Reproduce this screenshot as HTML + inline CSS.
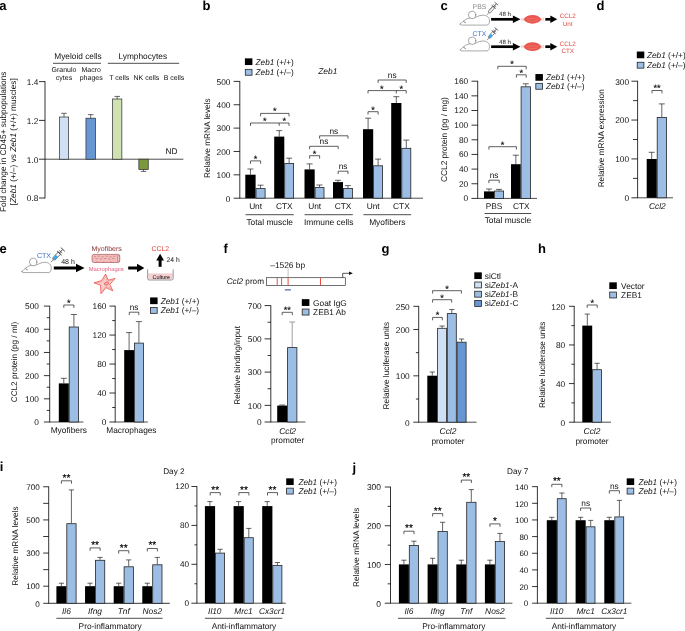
<!DOCTYPE html>
<html lang="en">
<head>
<meta charset="utf-8">
<title>Figure</title>
<style>
html,body{margin:0;padding:0;background:#fff;}
body{width:685px;height:631px;overflow:hidden;}
svg{display:block;font-family:'Liberation Sans', Arial, Helvetica, sans-serif;}
</style>
</head>
<body>
<div id="fig" style="will-change:transform;width:685px;height:631px;background:#fff">
<svg width="685" height="631" viewBox="0 0 685 631" font-family="'Liberation Sans', Arial, Helvetica, sans-serif" text-rendering="geometricPrecision">
<rect width="685" height="631" fill="#fff"/>
<text x="-0.80" y="9.80" font-size="13" text-anchor="start" fill="#000" font-weight="bold">a</text>
<text x="78.00" y="58.99" font-size="8.3" text-anchor="middle" fill="#111">Myeloid cells</text>
<line x1="53.00" y1="63.30" x2="101.00" y2="63.30" stroke="#000" stroke-width="0.7"/>
<text x="142.80" y="58.99" font-size="8.3" text-anchor="middle" fill="#111">Lymphocytes</text>
<line x1="107.80" y1="63.30" x2="179.20" y2="63.30" stroke="#000" stroke-width="0.7"/>
<text x="64.00" y="71.82" font-size="7.0" text-anchor="middle" fill="#111">Granulo</text>
<text x="64.00" y="80.12" font-size="7.0" text-anchor="middle" fill="#111">cytes</text>
<text x="91.20" y="71.82" font-size="7.0" text-anchor="middle" fill="#111">Macro</text>
<text x="91.20" y="80.12" font-size="7.0" text-anchor="middle" fill="#111">phages</text>
<text x="119.20" y="80.12" font-size="7.0" text-anchor="middle" fill="#111">T cells</text>
<text x="146.40" y="80.12" font-size="7.0" text-anchor="middle" fill="#111">NK cells</text>
<text x="174.00" y="80.12" font-size="7.0" text-anchor="middle" fill="#111">B cells</text>
<line x1="45.00" y1="81.25" x2="45.00" y2="198.35" stroke="#000" stroke-width="0.8"/>
<line x1="39.00" y1="81.60" x2="45.00" y2="81.60" stroke="#000" stroke-width="0.8"/>
<line x1="39.00" y1="120.40" x2="45.00" y2="120.40" stroke="#000" stroke-width="0.8"/>
<line x1="39.00" y1="159.20" x2="45.00" y2="159.20" stroke="#000" stroke-width="0.8"/>
<line x1="39.00" y1="198.00" x2="45.00" y2="198.00" stroke="#000" stroke-width="0.8"/>
<text x="38.40" y="84.96" font-size="8.3" text-anchor="end" fill="#111">1.4</text>
<text x="38.40" y="123.76" font-size="8.3" text-anchor="end" fill="#111">1.2</text>
<text x="38.40" y="162.56" font-size="8.3" text-anchor="end" fill="#111">1.0</text>
<text x="38.40" y="201.36" font-size="8.3" text-anchor="end" fill="#111">0.8</text>
<line x1="45.00" y1="159.20" x2="183.40" y2="159.20" stroke="#000" stroke-width="0.7"/>
<rect x="59.35" y="117.00" width="9.30" height="42.20" fill="#cfe0f5" stroke="#2b2b2b" stroke-width="0.7"/>
<line x1="64.00" y1="117.00" x2="64.00" y2="113.30" stroke="#2b2b2b" stroke-width="0.7"/>
<line x1="61.20" y1="113.30" x2="66.80" y2="113.30" stroke="#2b2b2b" stroke-width="0.7"/>
<rect x="85.95" y="118.20" width="9.50" height="41.00" fill="#6797d3" stroke="#2b2b2b" stroke-width="0.7"/>
<line x1="90.70" y1="118.20" x2="90.70" y2="114.60" stroke="#2b2b2b" stroke-width="0.7"/>
<line x1="87.90" y1="114.60" x2="93.50" y2="114.60" stroke="#2b2b2b" stroke-width="0.7"/>
<rect x="112.55" y="99.00" width="9.30" height="60.20" fill="#d0e1b2" stroke="#2b2b2b" stroke-width="0.7"/>
<line x1="117.20" y1="99.00" x2="117.20" y2="96.40" stroke="#2b2b2b" stroke-width="0.7"/>
<line x1="114.40" y1="96.40" x2="120.00" y2="96.40" stroke="#2b2b2b" stroke-width="0.7"/>
<rect x="138.85" y="159.20" width="9.40" height="10.40" fill="#7b9a3e" stroke="#2b2b2b" stroke-width="0.7"/>
<line x1="143.55" y1="169.60" x2="143.55" y2="171.40" stroke="#2b2b2b" stroke-width="0.7"/>
<line x1="140.75" y1="171.40" x2="146.35" y2="171.40" stroke="#2b2b2b" stroke-width="0.7"/>
<text x="171.40" y="154.29" font-size="8.3" text-anchor="middle" fill="#111">ND</text>
<text x="6.50" y="141.80" font-size="8.28" text-anchor="middle" fill="#111" transform="rotate(-90 6.50 141.80)">Fold change in CD45+ subpopulations</text>
<text x="15.90" y="141.80" font-size="8.28" text-anchor="middle" fill="#111" transform="rotate(-90 15.90 141.80)">[<tspan font-style="italic">Zeb1</tspan> (+/–) vs <tspan font-style="italic">Zeb1</tspan> (+/+) muscles]</text>
<text x="202.60" y="9.80" font-size="13" text-anchor="start" fill="#000" font-weight="bold">b</text>
<rect x="244.90" y="58.35" width="7.50" height="6.70" fill="#000"/>
<text x="255.60" y="64.65" font-size="8.2" text-anchor="start" fill="#111"><tspan font-style="italic">Zeb1</tspan> (+/+)</text>
<rect x="245.30" y="69.35" width="6.70" height="5.90" fill="#9cbde4" stroke="#242424" stroke-width="0.8"/>
<text x="255.60" y="75.25" font-size="8.2" text-anchor="start" fill="#111"><tspan font-style="italic">Zeb1</tspan> (+/–)</text>
<text x="327.80" y="74.02" font-size="8.4" text-anchor="middle" fill="#111" font-style="italic">Zeb1</text>
<line x1="239.80" y1="81.05" x2="239.80" y2="198.55" stroke="#000" stroke-width="0.8"/>
<line x1="233.60" y1="198.20" x2="239.80" y2="198.20" stroke="#000" stroke-width="0.8"/>
<line x1="233.60" y1="174.84" x2="239.80" y2="174.84" stroke="#000" stroke-width="0.8"/>
<line x1="233.60" y1="151.48" x2="239.80" y2="151.48" stroke="#000" stroke-width="0.8"/>
<line x1="233.60" y1="128.12" x2="239.80" y2="128.12" stroke="#000" stroke-width="0.8"/>
<line x1="233.60" y1="104.76" x2="239.80" y2="104.76" stroke="#000" stroke-width="0.8"/>
<line x1="233.60" y1="81.40" x2="239.80" y2="81.40" stroke="#000" stroke-width="0.8"/>
<text x="230.40" y="201.56" font-size="8.3" text-anchor="end" fill="#111">0</text>
<text x="230.40" y="178.20" font-size="8.3" text-anchor="end" fill="#111">100</text>
<text x="230.40" y="154.84" font-size="8.3" text-anchor="end" fill="#111">200</text>
<text x="230.40" y="131.48" font-size="8.3" text-anchor="end" fill="#111">300</text>
<text x="230.40" y="108.12" font-size="8.3" text-anchor="end" fill="#111">400</text>
<text x="230.40" y="84.76" font-size="8.3" text-anchor="end" fill="#111">500</text>
<line x1="239.80" y1="198.20" x2="423.00" y2="198.20" stroke="#000" stroke-width="0.7"/>
<text x="209.90" y="138.20" font-size="8.3" text-anchor="middle" fill="#111" transform="rotate(-90 209.90 138.20)">Relative mRNA levels</text>
<rect x="245.30" y="174.70" width="10.30" height="23.50" fill="#000"/>
<rect x="256.00" y="188.60" width="9.10" height="9.60" fill="#9cbde4" stroke="#242424" stroke-width="0.8"/>
<line x1="250.45" y1="174.70" x2="250.45" y2="169.00" stroke="#222" stroke-width="0.7"/>
<line x1="247.45" y1="169.00" x2="253.45" y2="169.00" stroke="#222" stroke-width="0.7"/>
<line x1="260.55" y1="188.20" x2="260.55" y2="185.20" stroke="#222" stroke-width="0.7"/>
<line x1="257.55" y1="185.20" x2="263.55" y2="185.20" stroke="#222" stroke-width="0.7"/>
<rect x="274.20" y="136.60" width="10.10" height="61.60" fill="#000"/>
<rect x="284.70" y="163.50" width="8.90" height="34.70" fill="#9cbde4" stroke="#242424" stroke-width="0.8"/>
<line x1="279.25" y1="136.60" x2="279.25" y2="130.60" stroke="#222" stroke-width="0.7"/>
<line x1="276.25" y1="130.60" x2="282.25" y2="130.60" stroke="#222" stroke-width="0.7"/>
<line x1="289.15" y1="163.10" x2="289.15" y2="158.20" stroke="#222" stroke-width="0.7"/>
<line x1="286.15" y1="158.20" x2="292.15" y2="158.20" stroke="#222" stroke-width="0.7"/>
<rect x="304.50" y="169.40" width="10.20" height="28.80" fill="#000"/>
<rect x="315.10" y="187.50" width="8.90" height="10.70" fill="#9cbde4" stroke="#242424" stroke-width="0.8"/>
<line x1="309.60" y1="169.40" x2="309.60" y2="163.90" stroke="#222" stroke-width="0.7"/>
<line x1="306.60" y1="163.90" x2="312.60" y2="163.90" stroke="#222" stroke-width="0.7"/>
<line x1="319.55" y1="187.10" x2="319.55" y2="185.00" stroke="#222" stroke-width="0.7"/>
<line x1="316.55" y1="185.00" x2="322.55" y2="185.00" stroke="#222" stroke-width="0.7"/>
<rect x="333.00" y="182.10" width="10.00" height="16.10" fill="#000"/>
<rect x="343.40" y="188.40" width="9.00" height="9.80" fill="#9cbde4" stroke="#242424" stroke-width="0.8"/>
<line x1="338.00" y1="182.10" x2="338.00" y2="180.30" stroke="#222" stroke-width="0.7"/>
<line x1="335.00" y1="180.30" x2="341.00" y2="180.30" stroke="#222" stroke-width="0.7"/>
<line x1="347.90" y1="188.00" x2="347.90" y2="185.60" stroke="#222" stroke-width="0.7"/>
<line x1="344.90" y1="185.60" x2="350.90" y2="185.60" stroke="#222" stroke-width="0.7"/>
<rect x="363.00" y="129.20" width="10.20" height="69.00" fill="#000"/>
<rect x="373.60" y="165.80" width="9.00" height="32.40" fill="#9cbde4" stroke="#242424" stroke-width="0.8"/>
<line x1="368.10" y1="129.20" x2="368.10" y2="118.20" stroke="#222" stroke-width="0.7"/>
<line x1="365.10" y1="118.20" x2="371.10" y2="118.20" stroke="#222" stroke-width="0.7"/>
<line x1="378.10" y1="165.40" x2="378.10" y2="159.10" stroke="#222" stroke-width="0.7"/>
<line x1="375.10" y1="159.10" x2="381.10" y2="159.10" stroke="#222" stroke-width="0.7"/>
<rect x="391.20" y="103.00" width="10.20" height="95.20" fill="#000"/>
<rect x="401.80" y="148.30" width="9.00" height="49.90" fill="#9cbde4" stroke="#242424" stroke-width="0.8"/>
<line x1="396.30" y1="103.00" x2="396.30" y2="96.70" stroke="#222" stroke-width="0.7"/>
<line x1="393.30" y1="96.70" x2="399.30" y2="96.70" stroke="#222" stroke-width="0.7"/>
<line x1="406.30" y1="147.90" x2="406.30" y2="140.10" stroke="#222" stroke-width="0.7"/>
<line x1="403.30" y1="140.10" x2="409.30" y2="140.10" stroke="#222" stroke-width="0.7"/>
<text x="255.60" y="208.79" font-size="8.3" text-anchor="middle" fill="#111">Unt</text>
<text x="284.30" y="208.79" font-size="8.3" text-anchor="middle" fill="#111">CTX</text>
<text x="314.70" y="208.79" font-size="8.3" text-anchor="middle" fill="#111">Unt</text>
<text x="343.00" y="208.79" font-size="8.3" text-anchor="middle" fill="#111">CTX</text>
<text x="373.20" y="208.79" font-size="8.3" text-anchor="middle" fill="#111">Unt</text>
<text x="401.40" y="208.79" font-size="8.3" text-anchor="middle" fill="#111">CTX</text>
<line x1="245.50" y1="214.70" x2="293.80" y2="214.70" stroke="#000" stroke-width="0.7"/>
<text x="269.65" y="224.72" font-size="8.4" text-anchor="middle" fill="#111">Total muscle</text>
<line x1="304.60" y1="214.70" x2="352.80" y2="214.70" stroke="#000" stroke-width="0.7"/>
<text x="328.70" y="224.72" font-size="8.4" text-anchor="middle" fill="#111">Immune cells</text>
<line x1="363.40" y1="214.70" x2="411.20" y2="214.70" stroke="#000" stroke-width="0.7"/>
<text x="387.30" y="224.72" font-size="8.4" text-anchor="middle" fill="#111">Myofibers</text>
<path d="M250.50 163.80V160.90H260.60V163.80" fill="none" stroke="#2a2a2a" stroke-width="0.75"/>
<text x="255.55" y="161.81" font-size="9.2" text-anchor="middle" fill="#000" stroke="#000" stroke-width="0.12">*</text>
<path d="M250.50 125.90V123.00H289.00V125.90M279.20 123.00V125.90" fill="none" stroke="#2a2a2a" stroke-width="0.75"/>
<text x="264.80" y="123.91" font-size="9.2" text-anchor="middle" fill="#000" stroke="#000" stroke-width="0.12">*</text>
<text x="284.20" y="123.91" font-size="9.2" text-anchor="middle" fill="#000" stroke="#000" stroke-width="0.12">*</text>
<path d="M260.60 116.30V113.40H289.00V116.30" fill="none" stroke="#2a2a2a" stroke-width="0.75"/>
<text x="274.80" y="114.31" font-size="9.2" text-anchor="middle" fill="#000" stroke="#000" stroke-width="0.12">*</text>
<path d="M309.60 158.60V155.70H319.60V158.60" fill="none" stroke="#2a2a2a" stroke-width="0.75"/>
<text x="314.60" y="156.61" font-size="9.2" text-anchor="middle" fill="#000" stroke="#000" stroke-width="0.12">*</text>
<path d="M309.60 149.20V146.30H338.20V149.20" fill="none" stroke="#2a2a2a" stroke-width="0.75"/>
<text x="323.90" y="144.10" font-size="8.3" text-anchor="middle" fill="#111">ns</text>
<path d="M319.60 138.70V135.80H348.00V138.70" fill="none" stroke="#2a2a2a" stroke-width="0.75"/>
<text x="333.80" y="133.60" font-size="8.3" text-anchor="middle" fill="#111">ns</text>
<path d="M338.20 174.10V171.20H348.00V174.10" fill="none" stroke="#2a2a2a" stroke-width="0.75"/>
<text x="343.10" y="169.00" font-size="8.3" text-anchor="middle" fill="#111">ns</text>
<path d="M368.00 114.60V111.70H378.10V114.60" fill="none" stroke="#2a2a2a" stroke-width="0.75"/>
<text x="373.05" y="112.61" font-size="9.2" text-anchor="middle" fill="#000" stroke="#000" stroke-width="0.12">*</text>
<path d="M368.00 93.50V90.60H406.20V93.50M396.30 90.60V93.50" fill="none" stroke="#2a2a2a" stroke-width="0.75"/>
<text x="381.80" y="91.51" font-size="9.2" text-anchor="middle" fill="#000" stroke="#000" stroke-width="0.12">*</text>
<text x="401.20" y="91.51" font-size="9.2" text-anchor="middle" fill="#000" stroke="#000" stroke-width="0.12">*</text>
<path d="M378.10 82.90V80.00H406.20V82.90" fill="none" stroke="#2a2a2a" stroke-width="0.75"/>
<text x="392.15" y="77.80" font-size="8.3" text-anchor="middle" fill="#111">ns</text>
<text x="440.60" y="9.80" font-size="13" text-anchor="start" fill="#000" font-weight="bold">c</text>
<g transform="translate(459.80 10.30)" fill="#fff" stroke="#6e6e6e" stroke-width="0.6" stroke-linejoin="round" stroke-linecap="round"><path d="M0.4 13.7 C2.5 11.5 5 9.6 7.4 8.4 C10 7.4 13 7.6 15.8 7.2 C18 5.9 20.5 4.9 23.2 4.9 C27 4.9 29.7 7 29.7 10.5 C29.7 13 28.8 14.8 27 14.8 L2.4 14.8 C1 14.8 0 14.4 0.4 13.7 Z"/><circle cx="12.3" cy="4.6" r="3.7"/><path d="M4.0 11.4 L5.6 12.3" fill="none" stroke-width="0.7" stroke="#444"/></g>
<text x="479.40" y="8.55" font-size="6.8" text-anchor="middle" fill="#8a8a8a">PBS</text>
<g transform="translate(487.00 14.90) rotate(-50)" stroke="#333" stroke-width="0.55" fill="#fff"><line x1="0" y1="0" x2="2.8" y2="0" stroke-width="0.45"/><path d="M2.8 0 L3.8 -1.3 H10.4 V1.3 H3.8 Z" fill="#fff"/><path d="M5.2 -1.3V0M6.5 -1.3V0M7.8 -1.3V0M9.1 -1.3V0" stroke-width="0.3"/><line x1="10.4" y1="-2.6" x2="10.4" y2="2.6" stroke-width="0.7"/><line x1="10.4" y1="0" x2="14.4" y2="0" stroke-width="0.7"/><line x1="12.0" y1="-1.9" x2="12.0" y2="1.9" stroke-width="0.5"/><line x1="14.6" y1="-2.3" x2="14.6" y2="2.3" stroke-width="0.7"/></g>
<line x1="491.10" y1="19.30" x2="513.40" y2="19.30" stroke="#000" stroke-width="2.7"/>
<path d="M520.50 19.30L512.90 15.60V23.00Z" fill="#000"/>
<text x="505.00" y="16.00" font-size="6.1" text-anchor="middle" fill="#111">48 h</text>
<path d="M521.00 18.30H524.40M521.00 19.30H524.40M521.00 20.30H524.40M540.60 18.30H544.00M540.60 19.30H544.00M540.60 20.30H544.00" stroke="#f1bdb8" stroke-width="0.6" fill="none"/>
<path d="M523.60 19.30 C526.60 13.50 538.40 13.50 541.40 19.30 C538.40 25.10 526.60 25.10 523.60 19.30Z" fill="#e9584f"/>
<path d="M526.60 19.00Q532.50 17.70 538.40 19.00M527.60 20.70Q532.50 21.90 537.40 20.70" fill="none" stroke="#f08a82" stroke-width="0.5"/>
<line x1="545.30" y1="19.30" x2="550.80" y2="19.30" stroke="#000" stroke-width="2.7"/>
<path d="M557.30 19.30L550.30 15.60V23.00Z" fill="#000"/>
<text x="567.70" y="18.37" font-size="6.3" text-anchor="middle" fill="#e5473f">CCL2</text>
<text x="567.70" y="25.67" font-size="6.3" text-anchor="middle" fill="#e5473f">Unt</text>
<g transform="translate(459.80 36.10)" fill="#fff" stroke="#6e6e6e" stroke-width="0.6" stroke-linejoin="round" stroke-linecap="round"><path d="M0.4 13.7 C2.5 11.5 5 9.6 7.4 8.4 C10 7.4 13 7.6 15.8 7.2 C18 5.9 20.5 4.9 23.2 4.9 C27 4.9 29.7 7 29.7 10.5 C29.7 13 28.8 14.8 27 14.8 L2.4 14.8 C1 14.8 0 14.4 0.4 13.7 Z"/><circle cx="12.3" cy="4.6" r="3.7"/><path d="M4.0 11.4 L5.6 12.3" fill="none" stroke-width="0.7" stroke="#444"/></g>
<text x="479.40" y="35.75" font-size="6.8" text-anchor="middle" fill="#3d6fc6">CTX</text>
<g transform="translate(487.00 40.20) rotate(-50)" stroke="#333" stroke-width="0.55" fill="#fff"><line x1="0" y1="0" x2="2.8" y2="0" stroke-width="0.45"/><path d="M2.8 0 L3.8 -1.3 H10.4 V1.3 H3.8 Z" fill="#fff"/><path d="M3.0 0 L3.9 -1.1 H7.4 V1.1 H3.9 Z" fill="#35a7ee" stroke="none"/><line x1="10.4" y1="-2.6" x2="10.4" y2="2.6" stroke-width="0.7"/><line x1="10.4" y1="0" x2="14.4" y2="0" stroke-width="0.7"/><line x1="12.0" y1="-1.9" x2="12.0" y2="1.9" stroke-width="0.5"/><line x1="14.6" y1="-2.3" x2="14.6" y2="2.3" stroke-width="0.7"/></g>
<line x1="491.10" y1="46.70" x2="513.40" y2="46.70" stroke="#000" stroke-width="2.7"/>
<path d="M520.50 46.70L512.90 43.00V50.40Z" fill="#000"/>
<text x="505.00" y="44.40" font-size="6.1" text-anchor="middle" fill="#111">48 h</text>
<path d="M521.00 45.70H524.40M521.00 46.70H524.40M521.00 47.70H524.40M540.60 45.70H544.00M540.60 46.70H544.00M540.60 47.70H544.00" stroke="#f1bdb8" stroke-width="0.6" fill="none"/>
<path d="M523.60 46.70 C526.60 40.90 538.40 40.90 541.40 46.70 C538.40 52.50 526.60 52.50 523.60 46.70Z" fill="#e9584f"/>
<path d="M526.60 46.40Q532.50 45.10 538.40 46.40M527.60 48.10Q532.50 49.30 537.40 48.10" fill="none" stroke="#f08a82" stroke-width="0.5"/>
<line x1="545.30" y1="46.70" x2="550.80" y2="46.70" stroke="#000" stroke-width="2.7"/>
<path d="M557.30 46.70L550.30 43.00V50.40Z" fill="#000"/>
<text x="567.70" y="45.77" font-size="6.3" text-anchor="middle" fill="#e5473f">CCL2</text>
<text x="567.70" y="53.07" font-size="6.3" text-anchor="middle" fill="#e5473f">CTX</text>
<line x1="477.70" y1="80.85" x2="477.70" y2="198.75" stroke="#000" stroke-width="0.8"/>
<line x1="471.50" y1="198.40" x2="477.70" y2="198.40" stroke="#000" stroke-width="0.8"/>
<line x1="471.50" y1="183.75" x2="477.70" y2="183.75" stroke="#000" stroke-width="0.8"/>
<line x1="471.50" y1="169.10" x2="477.70" y2="169.10" stroke="#000" stroke-width="0.8"/>
<line x1="471.50" y1="154.45" x2="477.70" y2="154.45" stroke="#000" stroke-width="0.8"/>
<line x1="471.50" y1="139.80" x2="477.70" y2="139.80" stroke="#000" stroke-width="0.8"/>
<line x1="471.50" y1="125.15" x2="477.70" y2="125.15" stroke="#000" stroke-width="0.8"/>
<line x1="471.50" y1="110.50" x2="477.70" y2="110.50" stroke="#000" stroke-width="0.8"/>
<line x1="471.50" y1="95.85" x2="477.70" y2="95.85" stroke="#000" stroke-width="0.8"/>
<line x1="471.50" y1="81.20" x2="477.70" y2="81.20" stroke="#000" stroke-width="0.8"/>
<text x="468.20" y="201.36" font-size="8.3" text-anchor="end" fill="#111">0</text>
<text x="468.20" y="186.71" font-size="8.3" text-anchor="end" fill="#111">20</text>
<text x="468.20" y="172.06" font-size="8.3" text-anchor="end" fill="#111">40</text>
<text x="468.20" y="157.41" font-size="8.3" text-anchor="end" fill="#111">60</text>
<text x="468.20" y="142.76" font-size="8.3" text-anchor="end" fill="#111">80</text>
<text x="468.20" y="128.11" font-size="8.3" text-anchor="end" fill="#111">100</text>
<text x="468.20" y="113.46" font-size="8.3" text-anchor="end" fill="#111">120</text>
<text x="468.20" y="98.81" font-size="8.3" text-anchor="end" fill="#111">140</text>
<text x="468.20" y="84.16" font-size="8.3" text-anchor="end" fill="#111">160</text>
<line x1="477.70" y1="198.40" x2="537.00" y2="198.40" stroke="#000" stroke-width="0.7"/>
<text x="446.60" y="139.60" font-size="8.36" text-anchor="middle" fill="#111" transform="rotate(-90 446.60 139.60)">CCL2 protein (pg / mg)</text>
<rect x="484.00" y="191.40" width="10.00" height="7.00" fill="#000"/>
<rect x="494.40" y="191.00" width="9.20" height="7.40" fill="#9cbde4" stroke="#242424" stroke-width="0.8"/>
<line x1="489.00" y1="191.40" x2="489.00" y2="189.00" stroke="#222" stroke-width="0.7"/>
<line x1="486.00" y1="189.00" x2="492.00" y2="189.00" stroke="#222" stroke-width="0.7"/>
<line x1="499.00" y1="190.60" x2="499.00" y2="189.40" stroke="#222" stroke-width="0.7"/>
<line x1="496.00" y1="189.40" x2="502.00" y2="189.40" stroke="#222" stroke-width="0.7"/>
<rect x="511.00" y="164.20" width="9.70" height="34.20" fill="#000"/>
<rect x="521.10" y="86.80" width="9.40" height="111.60" fill="#9cbde4" stroke="#242424" stroke-width="0.8"/>
<line x1="515.85" y1="164.20" x2="515.85" y2="155.20" stroke="#222" stroke-width="0.7"/>
<line x1="512.85" y1="155.20" x2="518.85" y2="155.20" stroke="#222" stroke-width="0.7"/>
<line x1="525.80" y1="86.40" x2="525.80" y2="83.80" stroke="#222" stroke-width="0.7"/>
<line x1="522.80" y1="83.80" x2="528.80" y2="83.80" stroke="#222" stroke-width="0.7"/>
<text x="494.00" y="209.09" font-size="8.3" text-anchor="middle" fill="#111">PBS</text>
<text x="521.20" y="209.09" font-size="8.3" text-anchor="middle" fill="#111">CTX</text>
<line x1="484.60" y1="213.50" x2="531.20" y2="213.50" stroke="#000" stroke-width="0.7"/>
<text x="507.90" y="222.72" font-size="8.4" text-anchor="middle" fill="#111">Total muscle</text>
<path d="M488.90 183.10V180.20H499.20V183.10" fill="none" stroke="#2a2a2a" stroke-width="0.75"/>
<text x="494.05" y="178.00" font-size="8.3" text-anchor="middle" fill="#111">ns</text>
<path d="M488.90 149.60V146.70H516.40V149.60" fill="none" stroke="#2a2a2a" stroke-width="0.75"/>
<text x="502.65" y="147.61" font-size="9.2" text-anchor="middle" fill="#000" stroke="#000" stroke-width="0.12">*</text>
<path d="M516.40 77.70V74.80H526.20V77.70" fill="none" stroke="#2a2a2a" stroke-width="0.75"/>
<text x="521.30" y="75.71" font-size="9.2" text-anchor="middle" fill="#000" stroke="#000" stroke-width="0.12">*</text>
<path d="M497.80 69.20V66.30H526.20V69.20" fill="none" stroke="#2a2a2a" stroke-width="0.75"/>
<text x="512.00" y="67.21" font-size="9.2" text-anchor="middle" fill="#000" stroke="#000" stroke-width="0.12">*</text>
<rect x="535.40" y="74.05" width="7.50" height="6.70" fill="#000"/>
<text x="545.90" y="80.39" font-size="8.3" text-anchor="start" fill="#111"><tspan font-style="italic">Zeb1</tspan> (+/+)</text>
<rect x="535.80" y="83.35" width="6.70" height="5.90" fill="#9cbde4" stroke="#242424" stroke-width="0.8"/>
<text x="545.90" y="89.29" font-size="8.3" text-anchor="start" fill="#111"><tspan font-style="italic">Zeb1</tspan> (+/–)</text>
<text x="596.60" y="9.80" font-size="13" text-anchor="start" fill="#000" font-weight="bold">d</text>
<rect x="636.80" y="51.55" width="7.50" height="6.70" fill="#000"/>
<text x="646.90" y="57.89" font-size="8.3" text-anchor="start" fill="#111"><tspan font-style="italic">Zeb1</tspan> (+/+)</text>
<rect x="637.20" y="62.25" width="6.70" height="5.90" fill="#9cbde4" stroke="#242424" stroke-width="0.8"/>
<text x="646.90" y="68.19" font-size="8.3" text-anchor="start" fill="#111"><tspan font-style="italic">Zeb1</tspan> (+/–)</text>
<line x1="637.60" y1="80.84" x2="637.60" y2="198.15" stroke="#000" stroke-width="0.8"/>
<line x1="631.40" y1="197.80" x2="637.60" y2="197.80" stroke="#000" stroke-width="0.8"/>
<line x1="631.40" y1="158.93" x2="637.60" y2="158.93" stroke="#000" stroke-width="0.8"/>
<line x1="631.40" y1="120.06" x2="637.60" y2="120.06" stroke="#000" stroke-width="0.8"/>
<line x1="631.40" y1="81.19" x2="637.60" y2="81.19" stroke="#000" stroke-width="0.8"/>
<line x1="633.00" y1="178.37" x2="637.60" y2="178.37" stroke="#000" stroke-width="0.8"/>
<line x1="633.00" y1="139.50" x2="637.60" y2="139.50" stroke="#000" stroke-width="0.8"/>
<line x1="633.00" y1="100.63" x2="637.60" y2="100.63" stroke="#000" stroke-width="0.8"/>
<text x="629.00" y="201.16" font-size="8.3" text-anchor="end" fill="#111">0</text>
<text x="629.00" y="162.29" font-size="8.3" text-anchor="end" fill="#111">100</text>
<text x="629.00" y="123.42" font-size="8.3" text-anchor="end" fill="#111">200</text>
<text x="629.00" y="84.55" font-size="8.3" text-anchor="end" fill="#111">300</text>
<line x1="637.60" y1="197.80" x2="673.00" y2="197.80" stroke="#000" stroke-width="0.7"/>
<text x="603.90" y="138.30" font-size="8.25" text-anchor="middle" fill="#111" transform="rotate(-90 603.90 138.30)">Relative mRNA expression</text>
<rect x="646.70" y="159.00" width="10.10" height="38.80" fill="#000"/>
<rect x="657.20" y="117.40" width="9.20" height="80.40" fill="#9cbde4" stroke="#242424" stroke-width="0.8"/>
<line x1="651.70" y1="159.00" x2="651.70" y2="152.30" stroke="#222" stroke-width="0.7"/>
<line x1="648.70" y1="152.30" x2="654.70" y2="152.30" stroke="#222" stroke-width="0.7"/>
<line x1="661.80" y1="117.00" x2="661.80" y2="103.90" stroke="#222" stroke-width="0.7"/>
<line x1="658.80" y1="103.90" x2="664.80" y2="103.90" stroke="#222" stroke-width="0.7"/>
<path d="M652.00 93.40V90.50H662.00V93.40" fill="none" stroke="#2a2a2a" stroke-width="0.75"/>
<text x="657.00" y="91.41" font-size="9.2" text-anchor="middle" fill="#000" stroke="#000" stroke-width="0.12">**</text>
<text x="657.40" y="209.02" font-size="8.4" text-anchor="middle" fill="#111" font-style="italic">Ccl2</text>
<text x="-0.40" y="252.70" font-size="13" text-anchor="start" fill="#000" font-weight="bold">e</text>
<g transform="translate(21.60 257.20) scale(1.0 1.04)" fill="#fff" stroke="#6e6e6e" stroke-width="0.6" stroke-linejoin="round" stroke-linecap="round"><path d="M0.4 13.7 C2.5 11.5 5 9.6 7.4 8.4 C10 7.4 13 7.6 15.8 7.2 C18 5.9 20.5 4.9 23.2 4.9 C27 4.9 29.7 7 29.7 10.5 C29.7 13 28.8 14.8 27 14.8 L2.4 14.8 C1 14.8 0 14.4 0.4 13.7 Z"/><circle cx="11.6" cy="4.6" r="3.7"/><path d="M4.2 11.2 L5.6 12.0" fill="none" stroke-width="0.7" stroke="#444"/></g>
<text x="44.00" y="257.76" font-size="7.1" text-anchor="middle" fill="#3d6fc6">CTX</text>
<g transform="translate(50.8 262.2) scale(1.2) translate(-50.8 -262.2)">
<g transform="translate(50.80 262.20) rotate(-46.8)" stroke="#333" stroke-width="0.55" fill="#fff"><line x1="0" y1="0" x2="2.8" y2="0" stroke-width="0.45"/><path d="M2.8 0 L3.8 -1.3 H10.4 V1.3 H3.8 Z" fill="#fff"/><path d="M3.0 0 L3.9 -1.1 H7.4 V1.1 H3.9 Z" fill="#35a7ee" stroke="none"/><line x1="10.4" y1="-2.6" x2="10.4" y2="2.6" stroke-width="0.7"/><line x1="10.4" y1="0" x2="14.4" y2="0" stroke-width="0.7"/><line x1="12.0" y1="-1.9" x2="12.0" y2="1.9" stroke-width="0.5"/><line x1="14.6" y1="-2.3" x2="14.6" y2="2.3" stroke-width="0.7"/></g>
</g>
<line x1="53.80" y1="268.00" x2="76.50" y2="268.00" stroke="#000" stroke-width="3.0"/>
<path d="M84.60 268.00L76.00 263.80V272.20Z" fill="#000"/>
<text x="68.00" y="264.02" font-size="7.0" text-anchor="middle" fill="#111">48 h</text>
<text x="106.60" y="251.02" font-size="7.0" text-anchor="middle" fill="#86302f">Myofibers</text>
<rect x="92.1" y="254.4" width="27.6" height="8.1" rx="1.8" fill="#f3bcbc" stroke="#9a4040" stroke-width="0.6"/>
<ellipse cx="118.6" cy="258.45" rx="1.1" ry="3.6" fill="#f6cccc" stroke="#9a4040" stroke-width="0.45"/>
<path d="M94 256.6h2M97.6 256.2h2.4M101.6 256.8h2.2M105.4 256.2h2.4M109.4 256.8h2.2M113.2 256.3h2.2M95.5 258.6h2.2M99.6 259h2.4M104 258.5h2.2M108 259h2.4M112 258.6h2.4M96 261.9h1.6M103 261.9h1.6M110 261.9h1.6" stroke="#b96a6a" stroke-width="0.55" fill="none"/>
<text x="106.20" y="270.79" font-size="5.8" text-anchor="middle" fill="#e9557c">Macrophages</text>
<path d="M105.6 274.0 L108.2 280.2 L115.1 278.4 L109.8 284.4 L112.8 290.8 L105.9 287.6 L101.0 293.7 L100.5 285.2 L94.0 282.8 L101.5 280.6 Z" fill="#f9cfcf" stroke="#e5392e" stroke-width="0.7" stroke-linejoin="round"/>
<path d="M105.5 276.6 L107.2 281.6 L112.2 280.2 M111.2 288.6 L106.2 286.0 L102.2 290.8 M96.6 282.8 L102.6 281.8 L105.0 277.6" fill="none" stroke="#ee7b72" stroke-width="0.4"/>
<ellipse cx="106.4" cy="283.6" rx="2.2" ry="1.5" fill="#f3a7a7" stroke="#e5392e" stroke-width="0.5" transform="rotate(-15 106.4 283.6)"/>
<line x1="128.20" y1="268.00" x2="137.50" y2="268.00" stroke="#000" stroke-width="3.0"/>
<path d="M144.40 268.00L137.00 263.80V272.20Z" fill="#000"/>
<path d="M148.2 273.9H172.6V279.4H148.2Z" fill="#f8d3d5"/>
<path d="M148.2 273.9H172.6" stroke="#e7a3a8" stroke-width="0.45"/>
<path d="M147.6 269.3V278.4Q147.6 280.0 149.2 280.0H171.6Q173.2 280.0 173.2 278.4V269.3" fill="none" stroke="#777" stroke-width="0.75"/>
<text x="161.30" y="278.88" font-size="5.5" text-anchor="middle" fill="#000">Culture</text>
<line x1="160.10" y1="266.80" x2="160.10" y2="259.50" stroke="#000" stroke-width="3.0"/>
<path d="M160.1 253.8L156.2 260.6H164.0Z" fill="#000"/>
<text x="160.40" y="250.78" font-size="6.9" text-anchor="middle" fill="#e5473f">CCL2</text>
<text x="173.10" y="262.23" font-size="6.75" text-anchor="middle" fill="#111">24 h</text>
<line x1="49.70" y1="305.75" x2="49.70" y2="422.35" stroke="#000" stroke-width="0.8"/>
<line x1="43.90" y1="422.00" x2="49.70" y2="422.00" stroke="#000" stroke-width="0.8"/>
<line x1="43.90" y1="398.82" x2="49.70" y2="398.82" stroke="#000" stroke-width="0.8"/>
<line x1="43.90" y1="375.64" x2="49.70" y2="375.64" stroke="#000" stroke-width="0.8"/>
<line x1="43.90" y1="352.46" x2="49.70" y2="352.46" stroke="#000" stroke-width="0.8"/>
<line x1="43.90" y1="329.28" x2="49.70" y2="329.28" stroke="#000" stroke-width="0.8"/>
<line x1="43.90" y1="306.10" x2="49.70" y2="306.10" stroke="#000" stroke-width="0.8"/>
<line x1="46.70" y1="410.41" x2="49.70" y2="410.41" stroke="#000" stroke-width="0.8"/>
<line x1="46.70" y1="387.23" x2="49.70" y2="387.23" stroke="#000" stroke-width="0.8"/>
<line x1="46.70" y1="364.05" x2="49.70" y2="364.05" stroke="#000" stroke-width="0.8"/>
<line x1="46.70" y1="340.87" x2="49.70" y2="340.87" stroke="#000" stroke-width="0.8"/>
<line x1="46.70" y1="317.69" x2="49.70" y2="317.69" stroke="#000" stroke-width="0.8"/>
<text x="38.90" y="425.36" font-size="8.3" text-anchor="end" fill="#111">0</text>
<text x="38.90" y="402.18" font-size="8.3" text-anchor="end" fill="#111">100</text>
<text x="38.90" y="379.00" font-size="8.3" text-anchor="end" fill="#111">200</text>
<text x="38.90" y="355.82" font-size="8.3" text-anchor="end" fill="#111">300</text>
<text x="38.90" y="332.64" font-size="8.3" text-anchor="end" fill="#111">400</text>
<text x="38.90" y="309.46" font-size="8.3" text-anchor="end" fill="#111">500</text>
<line x1="49.70" y1="422.00" x2="83.40" y2="422.00" stroke="#000" stroke-width="0.7"/>
<text x="16.80" y="362.00" font-size="8.2" text-anchor="middle" fill="#111" transform="rotate(-90 16.80 362.00)">CCL2 protein (pg / ml)</text>
<rect x="58.80" y="383.40" width="10.00" height="38.60" fill="#000"/>
<rect x="69.20" y="327.00" width="9.30" height="95.00" fill="#9cbde4" stroke="#242424" stroke-width="0.8"/>
<line x1="63.80" y1="383.40" x2="63.80" y2="378.30" stroke="#222" stroke-width="0.7"/>
<line x1="60.80" y1="378.30" x2="66.80" y2="378.30" stroke="#222" stroke-width="0.7"/>
<line x1="73.90" y1="326.60" x2="73.90" y2="314.50" stroke="#222" stroke-width="0.7"/>
<line x1="70.90" y1="314.50" x2="76.90" y2="314.50" stroke="#222" stroke-width="0.7"/>
<path d="M63.80 307.90V305.00H73.90V307.90" fill="none" stroke="#2a2a2a" stroke-width="0.75"/>
<text x="68.85" y="305.91" font-size="9.2" text-anchor="middle" fill="#000" stroke="#000" stroke-width="0.12">*</text>
<text x="68.80" y="433.12" font-size="8.4" text-anchor="middle" fill="#111">Myofibers</text>
<line x1="115.20" y1="305.75" x2="115.20" y2="422.35" stroke="#000" stroke-width="0.8"/>
<line x1="109.40" y1="422.00" x2="115.20" y2="422.00" stroke="#000" stroke-width="0.8"/>
<line x1="109.40" y1="393.02" x2="115.20" y2="393.02" stroke="#000" stroke-width="0.8"/>
<line x1="109.40" y1="364.05" x2="115.20" y2="364.05" stroke="#000" stroke-width="0.8"/>
<line x1="109.40" y1="335.07" x2="115.20" y2="335.07" stroke="#000" stroke-width="0.8"/>
<line x1="109.40" y1="306.10" x2="115.20" y2="306.10" stroke="#000" stroke-width="0.8"/>
<line x1="112.20" y1="407.51" x2="115.20" y2="407.51" stroke="#000" stroke-width="0.8"/>
<line x1="112.20" y1="378.54" x2="115.20" y2="378.54" stroke="#000" stroke-width="0.8"/>
<line x1="112.20" y1="349.56" x2="115.20" y2="349.56" stroke="#000" stroke-width="0.8"/>
<line x1="112.20" y1="320.58" x2="115.20" y2="320.58" stroke="#000" stroke-width="0.8"/>
<text x="106.40" y="425.36" font-size="8.3" text-anchor="end" fill="#111">0</text>
<text x="106.40" y="396.39" font-size="8.3" text-anchor="end" fill="#111">40</text>
<text x="106.40" y="367.41" font-size="8.3" text-anchor="end" fill="#111">80</text>
<text x="106.40" y="338.43" font-size="8.3" text-anchor="end" fill="#111">120</text>
<text x="106.40" y="309.46" font-size="8.3" text-anchor="end" fill="#111">160</text>
<line x1="115.20" y1="422.00" x2="147.80" y2="422.00" stroke="#000" stroke-width="0.7"/>
<rect x="124.20" y="350.10" width="9.80" height="71.90" fill="#000"/>
<rect x="134.40" y="343.10" width="9.00" height="78.90" fill="#9cbde4" stroke="#242424" stroke-width="0.8"/>
<line x1="129.10" y1="350.10" x2="129.10" y2="332.60" stroke="#222" stroke-width="0.7"/>
<line x1="126.10" y1="332.60" x2="132.10" y2="332.60" stroke="#222" stroke-width="0.7"/>
<line x1="138.90" y1="342.70" x2="138.90" y2="321.60" stroke="#222" stroke-width="0.7"/>
<line x1="135.90" y1="321.60" x2="141.90" y2="321.60" stroke="#222" stroke-width="0.7"/>
<path d="M129.30 315.10V312.20H138.80V315.10" fill="none" stroke="#2a2a2a" stroke-width="0.75"/>
<text x="134.05" y="310.00" font-size="8.3" text-anchor="middle" fill="#111">ns</text>
<text x="131.40" y="433.09" font-size="8.3" text-anchor="middle" fill="#111">Macrophages</text>
<rect x="150.10" y="297.45" width="7.50" height="6.70" fill="#000"/>
<text x="160.70" y="303.77" font-size="8.25" text-anchor="start" fill="#111"><tspan font-style="italic">Zeb1</tspan> (+/+)</text>
<rect x="150.50" y="307.45" width="6.70" height="5.90" fill="#9cbde4" stroke="#242424" stroke-width="0.8"/>
<text x="160.70" y="313.37" font-size="8.25" text-anchor="start" fill="#111"><tspan font-style="italic">Zeb1</tspan> (+/–)</text>
<text x="223.60" y="252.80" font-size="13" text-anchor="start" fill="#000" font-weight="bold">f</text>
<text x="287.70" y="267.82" font-size="8.4" text-anchor="middle" fill="#111">–1526 bp</text>
<line x1="288.10" y1="268.60" x2="288.10" y2="277.60" stroke="#777" stroke-width="0.45"/>
<text x="264.00" y="284.40" font-size="8.2" text-anchor="end" fill="#111"><tspan font-style="italic">Ccl2</tspan> prom</text>
<rect x="266.50" y="277.70" width="78.80" height="7.80" fill="#fff" stroke="#333" stroke-width="0.7"/>
<line x1="277.20" y1="278.10" x2="277.20" y2="285.10" stroke="#e8392b" stroke-width="0.9"/>
<line x1="281.60" y1="278.10" x2="281.60" y2="285.10" stroke="#e8392b" stroke-width="0.9"/>
<line x1="288.10" y1="278.10" x2="288.10" y2="285.10" stroke="#e8392b" stroke-width="0.9"/>
<line x1="320.50" y1="278.10" x2="320.50" y2="285.10" stroke="#e8392b" stroke-width="0.9"/>
<path d="M342.7 277.7V273.3H350" fill="none" stroke="#111" stroke-width="0.7"/><path d="M352.9 273.3L349.0 271.5V275.1Z" fill="#111"/>
<line x1="284.80" y1="289.90" x2="290.90" y2="289.90" stroke="#3a50a8" stroke-width="1.1"/>
<line x1="270.80" y1="305.24" x2="270.80" y2="422.35" stroke="#000" stroke-width="0.8"/>
<line x1="264.60" y1="422.00" x2="270.80" y2="422.00" stroke="#000" stroke-width="0.8"/>
<line x1="264.60" y1="405.37" x2="270.80" y2="405.37" stroke="#000" stroke-width="0.8"/>
<line x1="264.60" y1="372.11" x2="270.80" y2="372.11" stroke="#000" stroke-width="0.8"/>
<line x1="264.60" y1="338.85" x2="270.80" y2="338.85" stroke="#000" stroke-width="0.8"/>
<line x1="264.60" y1="305.59" x2="270.80" y2="305.59" stroke="#000" stroke-width="0.8"/>
<line x1="267.60" y1="388.74" x2="270.80" y2="388.74" stroke="#000" stroke-width="0.8"/>
<line x1="267.60" y1="355.48" x2="270.80" y2="355.48" stroke="#000" stroke-width="0.8"/>
<line x1="267.60" y1="322.22" x2="270.80" y2="322.22" stroke="#000" stroke-width="0.8"/>
<text x="261.70" y="425.36" font-size="8.3" text-anchor="end" fill="#111">0</text>
<text x="261.70" y="408.73" font-size="8.3" text-anchor="end" fill="#111">100</text>
<text x="261.70" y="375.47" font-size="8.3" text-anchor="end" fill="#111">300</text>
<text x="261.70" y="342.21" font-size="8.3" text-anchor="end" fill="#111">500</text>
<text x="261.70" y="308.95" font-size="8.3" text-anchor="end" fill="#111">700</text>
<line x1="270.80" y1="422.00" x2="305.40" y2="422.00" stroke="#000" stroke-width="0.7"/>
<text x="239.60" y="365.40" font-size="8.24" text-anchor="middle" fill="#111" transform="rotate(-90 239.60 365.40)">Relative binding/input</text>
<rect x="277.20" y="405.60" width="10.00" height="16.40" fill="#000"/>
<rect x="287.60" y="347.60" width="9.30" height="74.40" fill="#9cbde4" stroke="#242424" stroke-width="0.8"/>
<line x1="282.20" y1="405.60" x2="282.20" y2="405.00" stroke="#222" stroke-width="0.7"/>
<line x1="279.20" y1="405.00" x2="285.20" y2="405.00" stroke="#222" stroke-width="0.7"/>
<line x1="292.20" y1="347.20" x2="292.20" y2="322.00" stroke="#777" stroke-width="0.7"/>
<line x1="289.20" y1="322.00" x2="295.20" y2="322.00" stroke="#777" stroke-width="0.7"/>
<path d="M282.20 315.20V312.30H292.30V315.20" fill="none" stroke="#2a2a2a" stroke-width="0.75"/>
<text x="287.25" y="313.21" font-size="9.2" text-anchor="middle" fill="#000" stroke="#000" stroke-width="0.12">**</text>
<rect x="301.80" y="299.15" width="7.60" height="6.80" fill="#000"/>
<text x="313.10" y="305.54" font-size="8.3" text-anchor="start" fill="#111">Goat IgG</text>
<rect x="302.20" y="309.05" width="6.80" height="6.00" fill="#9cbde4" stroke="#242424" stroke-width="0.8"/>
<text x="313.10" y="315.04" font-size="8.3" text-anchor="start" fill="#111">ZEB1 Ab</text>
<text x="287.60" y="433.52" font-size="8.4" text-anchor="middle" fill="#111" font-style="italic">Ccl2</text>
<text x="287.60" y="442.59" font-size="8.3" text-anchor="middle" fill="#111">promoter</text>
<text x="381.60" y="252.80" font-size="13" text-anchor="start" fill="#000" font-weight="bold">g</text>
<rect x="474.30" y="272.35" width="7.50" height="6.70" fill="#000"/>
<text x="484.80" y="278.69" font-size="8.3" text-anchor="start" fill="#111">siCtl</text>
<rect x="474.70" y="282.00" width="6.70" height="5.90" fill="#cfe0f5" stroke="#242424" stroke-width="0.8"/>
<text x="484.80" y="287.94" font-size="8.3" text-anchor="start" fill="#111">si<tspan font-style="italic">Zeb1</tspan>-A</text>
<rect x="474.70" y="291.25" width="6.70" height="5.90" fill="#9cbde4" stroke="#242424" stroke-width="0.8"/>
<text x="484.80" y="297.19" font-size="8.3" text-anchor="start" fill="#111">si<tspan font-style="italic">Zeb1</tspan>-B</text>
<rect x="474.70" y="300.50" width="6.70" height="5.90" fill="#6797d3" stroke="#242424" stroke-width="0.8"/>
<text x="484.80" y="306.44" font-size="8.3" text-anchor="start" fill="#111">si<tspan font-style="italic">Zeb1</tspan>-C</text>
<line x1="418.70" y1="305.95" x2="418.70" y2="422.55" stroke="#000" stroke-width="0.8"/>
<line x1="413.30" y1="422.20" x2="418.70" y2="422.20" stroke="#000" stroke-width="0.8"/>
<line x1="413.30" y1="375.84" x2="418.70" y2="375.84" stroke="#000" stroke-width="0.8"/>
<line x1="413.30" y1="329.48" x2="418.70" y2="329.48" stroke="#000" stroke-width="0.8"/>
<line x1="413.30" y1="306.30" x2="418.70" y2="306.30" stroke="#000" stroke-width="0.8"/>
<line x1="415.90" y1="399.02" x2="418.70" y2="399.02" stroke="#000" stroke-width="0.8"/>
<line x1="415.90" y1="352.66" x2="418.70" y2="352.66" stroke="#000" stroke-width="0.8"/>
<text x="409.70" y="425.56" font-size="8.3" text-anchor="end" fill="#111">0</text>
<text x="409.70" y="379.20" font-size="8.3" text-anchor="end" fill="#111">100</text>
<text x="409.70" y="332.84" font-size="8.3" text-anchor="end" fill="#111">200</text>
<text x="409.70" y="309.66" font-size="8.3" text-anchor="end" fill="#111">250</text>
<line x1="418.70" y1="422.20" x2="476.60" y2="422.20" stroke="#000" stroke-width="0.7"/>
<text x="388.90" y="365.60" font-size="8.3" text-anchor="middle" fill="#111" transform="rotate(-90 388.90 365.60)">Relative luciferase units</text>
<rect x="427.30" y="375.70" width="9.90" height="46.50" fill="#000"/>
<line x1="432.25" y1="375.70" x2="432.25" y2="372.00" stroke="#222" stroke-width="0.7"/>
<line x1="429.65" y1="372.00" x2="434.85" y2="372.00" stroke="#222" stroke-width="0.7"/>
<rect x="437.60" y="328.30" width="8.90" height="93.90" fill="#cfe0f5" stroke="#242424" stroke-width="0.8"/>
<line x1="442.05" y1="327.90" x2="442.05" y2="326.00" stroke="#222" stroke-width="0.7"/>
<line x1="439.45" y1="326.00" x2="444.65" y2="326.00" stroke="#222" stroke-width="0.7"/>
<rect x="447.30" y="313.60" width="9.00" height="108.60" fill="#9cbde4" stroke="#242424" stroke-width="0.8"/>
<line x1="451.80" y1="313.20" x2="451.80" y2="309.50" stroke="#222" stroke-width="0.7"/>
<line x1="449.20" y1="309.50" x2="454.40" y2="309.50" stroke="#222" stroke-width="0.7"/>
<rect x="457.10" y="342.20" width="9.00" height="80.00" fill="#6797d3" stroke="#242424" stroke-width="0.8"/>
<line x1="461.60" y1="341.80" x2="461.60" y2="339.00" stroke="#222" stroke-width="0.7"/>
<line x1="459.00" y1="339.00" x2="464.20" y2="339.00" stroke="#222" stroke-width="0.7"/>
<path d="M432.60 320.30V317.40H442.30V320.30" fill="none" stroke="#2a2a2a" stroke-width="0.75"/>
<text x="437.45" y="318.31" font-size="9.2" text-anchor="middle" fill="#000" stroke="#000" stroke-width="0.12">*</text>
<path d="M432.60 302.60V299.70H451.70V302.60" fill="none" stroke="#2a2a2a" stroke-width="0.75"/>
<text x="442.15" y="300.61" font-size="9.2" text-anchor="middle" fill="#000" stroke="#000" stroke-width="0.12">*</text>
<path d="M432.60 293.60V290.70H461.40V293.60" fill="none" stroke="#2a2a2a" stroke-width="0.75"/>
<text x="447.00" y="291.61" font-size="9.2" text-anchor="middle" fill="#000" stroke="#000" stroke-width="0.12">*</text>
<text x="448.00" y="434.22" font-size="8.4" text-anchor="middle" fill="#111" font-style="italic">Ccl2</text>
<text x="448.00" y="444.19" font-size="8.3" text-anchor="middle" fill="#111">promoter</text>
<text x="538.00" y="252.80" font-size="13" text-anchor="start" fill="#000" font-weight="bold">h</text>
<rect x="609.30" y="282.35" width="7.50" height="6.70" fill="#000"/>
<text x="621.10" y="288.69" font-size="8.3" text-anchor="start" fill="#111">Vector</text>
<rect x="609.70" y="292.05" width="6.70" height="5.90" fill="#9cbde4" stroke="#242424" stroke-width="0.8"/>
<text x="621.10" y="297.99" font-size="8.3" text-anchor="start" fill="#111">ZEB1</text>
<line x1="574.20" y1="305.95" x2="574.20" y2="422.55" stroke="#000" stroke-width="0.8"/>
<line x1="569.00" y1="422.20" x2="574.20" y2="422.20" stroke="#000" stroke-width="0.8"/>
<line x1="569.00" y1="383.57" x2="574.20" y2="383.57" stroke="#000" stroke-width="0.8"/>
<line x1="569.00" y1="344.94" x2="574.20" y2="344.94" stroke="#000" stroke-width="0.8"/>
<line x1="569.00" y1="306.30" x2="574.20" y2="306.30" stroke="#000" stroke-width="0.8"/>
<line x1="571.40" y1="402.88" x2="574.20" y2="402.88" stroke="#000" stroke-width="0.8"/>
<line x1="571.40" y1="364.25" x2="574.20" y2="364.25" stroke="#000" stroke-width="0.8"/>
<line x1="571.40" y1="325.62" x2="574.20" y2="325.62" stroke="#000" stroke-width="0.8"/>
<text x="565.20" y="425.56" font-size="8.3" text-anchor="end" fill="#111">0</text>
<text x="565.20" y="386.93" font-size="8.3" text-anchor="end" fill="#111">40</text>
<text x="565.20" y="348.30" font-size="8.3" text-anchor="end" fill="#111">80</text>
<text x="565.20" y="309.67" font-size="8.3" text-anchor="end" fill="#111">120</text>
<line x1="574.20" y1="422.20" x2="611.00" y2="422.20" stroke="#000" stroke-width="0.7"/>
<text x="545.10" y="364.80" font-size="8.2" text-anchor="middle" fill="#111" transform="rotate(-90 545.10 364.80)">Relative luciferase units</text>
<rect x="582.30" y="325.60" width="9.90" height="96.60" fill="#000"/>
<rect x="592.60" y="369.70" width="9.00" height="52.50" fill="#9cbde4" stroke="#242424" stroke-width="0.8"/>
<line x1="587.30" y1="325.60" x2="587.30" y2="314.10" stroke="#222" stroke-width="0.7"/>
<line x1="584.70" y1="314.10" x2="589.90" y2="314.10" stroke="#222" stroke-width="0.7"/>
<line x1="597.10" y1="369.30" x2="597.10" y2="363.30" stroke="#222" stroke-width="0.7"/>
<line x1="594.50" y1="363.30" x2="599.70" y2="363.30" stroke="#222" stroke-width="0.7"/>
<path d="M587.20 307.90V305.00H597.20V307.90" fill="none" stroke="#2a2a2a" stroke-width="0.75"/>
<text x="592.20" y="305.91" font-size="9.2" text-anchor="middle" fill="#000" stroke="#000" stroke-width="0.12">*</text>
<text x="592.00" y="434.22" font-size="8.4" text-anchor="middle" fill="#111" font-style="italic">Ccl2</text>
<text x="592.00" y="444.19" font-size="8.3" text-anchor="middle" fill="#111">promoter</text>
<text x="-0.20" y="471.20" font-size="13" text-anchor="start" fill="#000" font-weight="bold">i</text>
<text x="173.90" y="474.15" font-size="8.2" text-anchor="middle" fill="#111">Day 2</text>
<line x1="48.70" y1="486.43" x2="48.70" y2="603.65" stroke="#000" stroke-width="0.8"/>
<line x1="43.20" y1="603.30" x2="48.70" y2="603.30" stroke="#000" stroke-width="0.8"/>
<line x1="43.20" y1="586.20" x2="48.70" y2="586.20" stroke="#000" stroke-width="0.8"/>
<line x1="43.20" y1="569.63" x2="48.70" y2="569.63" stroke="#000" stroke-width="0.8"/>
<line x1="43.20" y1="553.06" x2="48.70" y2="553.06" stroke="#000" stroke-width="0.8"/>
<line x1="43.20" y1="536.49" x2="48.70" y2="536.49" stroke="#000" stroke-width="0.8"/>
<line x1="43.20" y1="519.92" x2="48.70" y2="519.92" stroke="#000" stroke-width="0.8"/>
<line x1="43.20" y1="503.35" x2="48.70" y2="503.35" stroke="#000" stroke-width="0.8"/>
<line x1="43.20" y1="486.78" x2="48.70" y2="486.78" stroke="#000" stroke-width="0.8"/>
<text x="39.80" y="606.58" font-size="8.1" text-anchor="end" fill="#111">0</text>
<text x="39.80" y="589.48" font-size="8.1" text-anchor="end" fill="#111">100</text>
<text x="39.80" y="556.34" font-size="8.1" text-anchor="end" fill="#111">300</text>
<text x="39.80" y="523.20" font-size="8.1" text-anchor="end" fill="#111">500</text>
<text x="39.80" y="490.06" font-size="8.1" text-anchor="end" fill="#111">700</text>
<line x1="48.70" y1="603.30" x2="169.80" y2="603.30" stroke="#000" stroke-width="0.8"/>
<text x="18.30" y="546.00" font-size="8.25" text-anchor="middle" fill="#111" transform="rotate(-90 18.30 546.00)">Relative mRNA levels</text>
<rect x="56.40" y="586.20" width="10.00" height="17.10" fill="#000"/>
<rect x="66.80" y="523.70" width="9.30" height="79.60" fill="#9cbde4" stroke="#242424" stroke-width="0.8"/>
<line x1="61.40" y1="586.20" x2="61.40" y2="583.20" stroke="#222" stroke-width="0.7"/>
<line x1="58.80" y1="583.20" x2="64.00" y2="583.20" stroke="#222" stroke-width="0.7"/>
<line x1="71.40" y1="523.30" x2="71.40" y2="489.90" stroke="#222" stroke-width="0.7"/>
<line x1="68.80" y1="489.90" x2="74.00" y2="489.90" stroke="#222" stroke-width="0.7"/>
<path d="M61.40 483.70V480.80H71.50V483.70" fill="none" stroke="#2a2a2a" stroke-width="0.75"/>
<text x="66.45" y="480.72" font-size="10.0" text-anchor="middle" fill="#000" stroke="#000" stroke-width="0.15">**</text>
<text x="66.40" y="613.92" font-size="8.4" text-anchor="middle" fill="#111" font-style="italic">Il6</text>
<rect x="85.05" y="586.20" width="10.00" height="17.10" fill="#000"/>
<rect x="95.45" y="560.30" width="9.30" height="43.00" fill="#9cbde4" stroke="#242424" stroke-width="0.8"/>
<line x1="90.05" y1="586.20" x2="90.05" y2="583.20" stroke="#222" stroke-width="0.7"/>
<line x1="87.45" y1="583.20" x2="92.65" y2="583.20" stroke="#222" stroke-width="0.7"/>
<line x1="100.05" y1="559.90" x2="100.05" y2="557.40" stroke="#222" stroke-width="0.7"/>
<line x1="97.45" y1="557.40" x2="102.65" y2="557.40" stroke="#222" stroke-width="0.7"/>
<path d="M90.05 550.80V547.90H100.15V550.80" fill="none" stroke="#2a2a2a" stroke-width="0.75"/>
<text x="95.10" y="547.82" font-size="10.0" text-anchor="middle" fill="#000" stroke="#000" stroke-width="0.15">**</text>
<text x="95.05" y="613.92" font-size="8.4" text-anchor="middle" fill="#111" font-style="italic">Ifng</text>
<rect x="113.70" y="586.20" width="10.00" height="17.10" fill="#000"/>
<rect x="124.10" y="566.80" width="9.30" height="36.50" fill="#9cbde4" stroke="#242424" stroke-width="0.8"/>
<line x1="118.70" y1="586.20" x2="118.70" y2="583.20" stroke="#222" stroke-width="0.7"/>
<line x1="116.10" y1="583.20" x2="121.30" y2="583.20" stroke="#222" stroke-width="0.7"/>
<line x1="128.70" y1="566.40" x2="128.70" y2="559.90" stroke="#222" stroke-width="0.7"/>
<line x1="126.10" y1="559.90" x2="131.30" y2="559.90" stroke="#222" stroke-width="0.7"/>
<path d="M118.70 553.60V550.70H128.80V553.60" fill="none" stroke="#2a2a2a" stroke-width="0.75"/>
<text x="123.75" y="550.62" font-size="10.0" text-anchor="middle" fill="#000" stroke="#000" stroke-width="0.15">**</text>
<text x="123.70" y="613.92" font-size="8.4" text-anchor="middle" fill="#111" font-style="italic">Tnf</text>
<rect x="142.30" y="586.20" width="10.00" height="17.10" fill="#000"/>
<rect x="152.70" y="564.80" width="9.30" height="38.50" fill="#9cbde4" stroke="#242424" stroke-width="0.8"/>
<line x1="147.30" y1="586.20" x2="147.30" y2="583.20" stroke="#222" stroke-width="0.7"/>
<line x1="144.70" y1="583.20" x2="149.90" y2="583.20" stroke="#222" stroke-width="0.7"/>
<line x1="157.30" y1="564.40" x2="157.30" y2="557.40" stroke="#222" stroke-width="0.7"/>
<line x1="154.70" y1="557.40" x2="159.90" y2="557.40" stroke="#222" stroke-width="0.7"/>
<path d="M147.30 551.40V548.50H157.40V551.40" fill="none" stroke="#2a2a2a" stroke-width="0.75"/>
<text x="152.35" y="548.42" font-size="10.0" text-anchor="middle" fill="#000" stroke="#000" stroke-width="0.15">**</text>
<text x="152.30" y="613.92" font-size="8.4" text-anchor="middle" fill="#111" font-style="italic">Nos2</text>
<line x1="56.40" y1="618.30" x2="162.60" y2="618.30" stroke="#000" stroke-width="0.7"/>
<text x="110.20" y="628.89" font-size="8.3" text-anchor="middle" fill="#111">Pro-inflammatory</text>
<line x1="196.90" y1="486.15" x2="196.90" y2="603.55" stroke="#000" stroke-width="0.8"/>
<line x1="191.40" y1="603.20" x2="196.90" y2="603.20" stroke="#000" stroke-width="0.8"/>
<line x1="191.40" y1="564.30" x2="196.90" y2="564.30" stroke="#000" stroke-width="0.8"/>
<line x1="191.40" y1="525.40" x2="196.90" y2="525.40" stroke="#000" stroke-width="0.8"/>
<line x1="191.40" y1="486.50" x2="196.90" y2="486.50" stroke="#000" stroke-width="0.8"/>
<line x1="194.50" y1="583.75" x2="196.90" y2="583.75" stroke="#000" stroke-width="0.8"/>
<line x1="194.50" y1="544.85" x2="196.90" y2="544.85" stroke="#000" stroke-width="0.8"/>
<line x1="194.50" y1="505.95" x2="196.90" y2="505.95" stroke="#000" stroke-width="0.8"/>
<text x="189.00" y="605.62" font-size="8.2" text-anchor="end" fill="#111">0</text>
<text x="189.00" y="566.72" font-size="8.2" text-anchor="end" fill="#111">40</text>
<text x="189.00" y="527.82" font-size="8.2" text-anchor="end" fill="#111">80</text>
<text x="189.00" y="488.92" font-size="8.2" text-anchor="end" fill="#111">120</text>
<line x1="196.90" y1="603.20" x2="285.80" y2="603.20" stroke="#000" stroke-width="0.7"/>
<rect x="204.90" y="506.10" width="10.20" height="97.10" fill="#000"/>
<rect x="215.50" y="553.10" width="9.10" height="50.10" fill="#9cbde4" stroke="#242424" stroke-width="0.8"/>
<line x1="209.90" y1="506.10" x2="209.90" y2="501.60" stroke="#222" stroke-width="0.7"/>
<line x1="207.30" y1="501.60" x2="212.50" y2="501.60" stroke="#222" stroke-width="0.7"/>
<line x1="220.10" y1="552.70" x2="220.10" y2="549.30" stroke="#222" stroke-width="0.7"/>
<line x1="217.50" y1="549.30" x2="222.70" y2="549.30" stroke="#222" stroke-width="0.7"/>
<path d="M210.20 495.50V492.60H220.20V495.50" fill="none" stroke="#2a2a2a" stroke-width="0.75"/>
<text x="215.20" y="492.52" font-size="10.0" text-anchor="middle" fill="#000" stroke="#000" stroke-width="0.15">**</text>
<text x="214.80" y="614.09" font-size="8.3" text-anchor="middle" fill="#111" font-style="italic">Il10</text>
<rect x="233.60" y="506.10" width="10.20" height="97.10" fill="#000"/>
<rect x="244.20" y="537.70" width="9.10" height="65.50" fill="#9cbde4" stroke="#242424" stroke-width="0.8"/>
<line x1="238.60" y1="506.10" x2="238.60" y2="501.60" stroke="#222" stroke-width="0.7"/>
<line x1="236.00" y1="501.60" x2="241.20" y2="501.60" stroke="#222" stroke-width="0.7"/>
<line x1="248.80" y1="537.30" x2="248.80" y2="528.40" stroke="#222" stroke-width="0.7"/>
<line x1="246.20" y1="528.40" x2="251.40" y2="528.40" stroke="#222" stroke-width="0.7"/>
<path d="M238.90 495.50V492.60H248.90V495.50" fill="none" stroke="#2a2a2a" stroke-width="0.75"/>
<text x="243.90" y="492.52" font-size="10.0" text-anchor="middle" fill="#000" stroke="#000" stroke-width="0.15">**</text>
<text x="243.50" y="614.09" font-size="8.3" text-anchor="middle" fill="#111" font-style="italic">Mrc1</text>
<rect x="262.20" y="506.10" width="10.20" height="97.10" fill="#000"/>
<rect x="272.80" y="565.60" width="9.10" height="37.60" fill="#9cbde4" stroke="#242424" stroke-width="0.8"/>
<line x1="267.20" y1="506.10" x2="267.20" y2="501.60" stroke="#222" stroke-width="0.7"/>
<line x1="264.60" y1="501.60" x2="269.80" y2="501.60" stroke="#222" stroke-width="0.7"/>
<line x1="277.40" y1="565.20" x2="277.40" y2="562.50" stroke="#222" stroke-width="0.7"/>
<line x1="274.80" y1="562.50" x2="280.00" y2="562.50" stroke="#222" stroke-width="0.7"/>
<path d="M267.50 495.50V492.60H277.50V495.50" fill="none" stroke="#2a2a2a" stroke-width="0.75"/>
<text x="272.50" y="492.52" font-size="10.0" text-anchor="middle" fill="#000" stroke="#000" stroke-width="0.15">**</text>
<text x="272.10" y="614.09" font-size="8.3" text-anchor="middle" fill="#111" font-style="italic">Cx3cr1</text>
<line x1="204.90" y1="618.30" x2="282.30" y2="618.30" stroke="#000" stroke-width="0.7"/>
<text x="244.00" y="629.09" font-size="8.3" text-anchor="middle" fill="#111">Anti-inflammatory</text>
<rect x="286.20" y="478.35" width="7.50" height="6.70" fill="#000"/>
<text x="298.40" y="484.67" font-size="8.25" text-anchor="start" fill="#111"><tspan font-style="italic">Zeb1</tspan> (+/+)</text>
<rect x="286.60" y="488.15" width="6.70" height="5.90" fill="#9cbde4" stroke="#242424" stroke-width="0.8"/>
<text x="298.40" y="494.07" font-size="8.25" text-anchor="start" fill="#111"><tspan font-style="italic">Zeb1</tspan> (+/–)</text>
<text x="352.40" y="471.60" font-size="13" text-anchor="start" fill="#000" font-weight="bold">j</text>
<text x="517.70" y="474.15" font-size="8.2" text-anchor="middle" fill="#111">Day 7</text>
<line x1="390.50" y1="486.66" x2="390.50" y2="603.55" stroke="#000" stroke-width="0.8"/>
<line x1="384.80" y1="603.20" x2="390.50" y2="603.20" stroke="#000" stroke-width="0.8"/>
<line x1="384.80" y1="564.47" x2="390.50" y2="564.47" stroke="#000" stroke-width="0.8"/>
<line x1="384.80" y1="525.74" x2="390.50" y2="525.74" stroke="#000" stroke-width="0.8"/>
<line x1="384.80" y1="487.01" x2="390.50" y2="487.01" stroke="#000" stroke-width="0.8"/>
<line x1="387.60" y1="583.84" x2="390.50" y2="583.84" stroke="#000" stroke-width="0.8"/>
<line x1="387.60" y1="545.11" x2="390.50" y2="545.11" stroke="#000" stroke-width="0.8"/>
<line x1="387.60" y1="506.38" x2="390.50" y2="506.38" stroke="#000" stroke-width="0.8"/>
<text x="381.00" y="606.62" font-size="8.45" text-anchor="end" fill="#111">0</text>
<text x="381.00" y="567.89" font-size="8.45" text-anchor="end" fill="#111">100</text>
<text x="381.00" y="529.16" font-size="8.45" text-anchor="end" fill="#111">200</text>
<text x="381.00" y="490.43" font-size="8.45" text-anchor="end" fill="#111">300</text>
<line x1="390.50" y1="603.20" x2="512.40" y2="603.20" stroke="#000" stroke-width="0.7"/>
<text x="358.90" y="547.30" font-size="8.25" text-anchor="middle" fill="#111" transform="rotate(-90 358.90 547.30)">Relative mRNA levels</text>
<rect x="398.90" y="564.40" width="10.00" height="38.80" fill="#000"/>
<rect x="409.30" y="545.50" width="9.30" height="57.70" fill="#9cbde4" stroke="#242424" stroke-width="0.8"/>
<line x1="403.90" y1="564.40" x2="403.90" y2="560.20" stroke="#222" stroke-width="0.7"/>
<line x1="401.30" y1="560.20" x2="406.50" y2="560.20" stroke="#222" stroke-width="0.7"/>
<line x1="413.90" y1="545.10" x2="413.90" y2="541.20" stroke="#222" stroke-width="0.7"/>
<line x1="411.30" y1="541.20" x2="416.50" y2="541.20" stroke="#222" stroke-width="0.7"/>
<path d="M403.90 534.10V531.20H414.00V534.10" fill="none" stroke="#2a2a2a" stroke-width="0.75"/>
<text x="408.95" y="531.12" font-size="10.0" text-anchor="middle" fill="#000" stroke="#000" stroke-width="0.15">**</text>
<text x="408.90" y="613.92" font-size="8.4" text-anchor="middle" fill="#111" font-style="italic">Il6</text>
<rect x="427.60" y="564.40" width="10.00" height="38.80" fill="#000"/>
<rect x="438.00" y="531.60" width="9.30" height="71.60" fill="#9cbde4" stroke="#242424" stroke-width="0.8"/>
<line x1="432.60" y1="564.40" x2="432.60" y2="558.30" stroke="#222" stroke-width="0.7"/>
<line x1="430.00" y1="558.30" x2="435.20" y2="558.30" stroke="#222" stroke-width="0.7"/>
<line x1="442.60" y1="531.20" x2="442.60" y2="522.30" stroke="#222" stroke-width="0.7"/>
<line x1="440.00" y1="522.30" x2="445.20" y2="522.30" stroke="#222" stroke-width="0.7"/>
<path d="M432.60 516.50V513.60H442.70V516.50" fill="none" stroke="#2a2a2a" stroke-width="0.75"/>
<text x="437.65" y="513.52" font-size="10.0" text-anchor="middle" fill="#000" stroke="#000" stroke-width="0.15">**</text>
<text x="437.60" y="613.92" font-size="8.4" text-anchor="middle" fill="#111" font-style="italic">Ifng</text>
<rect x="456.30" y="564.40" width="10.00" height="38.80" fill="#000"/>
<rect x="466.70" y="502.30" width="9.30" height="100.90" fill="#9cbde4" stroke="#242424" stroke-width="0.8"/>
<line x1="461.30" y1="564.40" x2="461.30" y2="560.20" stroke="#222" stroke-width="0.7"/>
<line x1="458.70" y1="560.20" x2="463.90" y2="560.20" stroke="#222" stroke-width="0.7"/>
<line x1="471.30" y1="501.90" x2="471.30" y2="489.60" stroke="#222" stroke-width="0.7"/>
<line x1="468.70" y1="489.60" x2="473.90" y2="489.60" stroke="#222" stroke-width="0.7"/>
<path d="M461.30 483.00V480.10H471.40V483.00" fill="none" stroke="#2a2a2a" stroke-width="0.75"/>
<text x="466.35" y="480.02" font-size="10.0" text-anchor="middle" fill="#000" stroke="#000" stroke-width="0.15">**</text>
<text x="466.30" y="613.92" font-size="8.4" text-anchor="middle" fill="#111" font-style="italic">Tnf</text>
<rect x="484.90" y="564.40" width="10.00" height="38.80" fill="#000"/>
<rect x="495.30" y="541.60" width="9.30" height="61.60" fill="#9cbde4" stroke="#242424" stroke-width="0.8"/>
<line x1="489.90" y1="564.40" x2="489.90" y2="560.20" stroke="#222" stroke-width="0.7"/>
<line x1="487.30" y1="560.20" x2="492.50" y2="560.20" stroke="#222" stroke-width="0.7"/>
<line x1="499.90" y1="541.20" x2="499.90" y2="533.40" stroke="#222" stroke-width="0.7"/>
<line x1="497.30" y1="533.40" x2="502.50" y2="533.40" stroke="#222" stroke-width="0.7"/>
<path d="M489.90 526.80V523.90H500.00V526.80" fill="none" stroke="#2a2a2a" stroke-width="0.75"/>
<text x="494.95" y="523.82" font-size="10.0" text-anchor="middle" fill="#000" stroke="#000" stroke-width="0.15">*</text>
<text x="494.90" y="613.92" font-size="8.4" text-anchor="middle" fill="#111" font-style="italic">Nos2</text>
<line x1="398.00" y1="618.30" x2="505.60" y2="618.30" stroke="#000" stroke-width="0.7"/>
<text x="453.80" y="628.89" font-size="8.3" text-anchor="middle" fill="#111">Pro-inflammatory</text>
<line x1="537.40" y1="486.30" x2="537.40" y2="603.55" stroke="#000" stroke-width="0.8"/>
<line x1="532.10" y1="603.20" x2="537.40" y2="603.20" stroke="#000" stroke-width="0.8"/>
<line x1="532.10" y1="586.55" x2="537.40" y2="586.55" stroke="#000" stroke-width="0.8"/>
<line x1="532.10" y1="569.90" x2="537.40" y2="569.90" stroke="#000" stroke-width="0.8"/>
<line x1="532.10" y1="553.25" x2="537.40" y2="553.25" stroke="#000" stroke-width="0.8"/>
<line x1="532.10" y1="536.60" x2="537.40" y2="536.60" stroke="#000" stroke-width="0.8"/>
<line x1="532.10" y1="519.95" x2="537.40" y2="519.95" stroke="#000" stroke-width="0.8"/>
<line x1="532.10" y1="503.30" x2="537.40" y2="503.30" stroke="#000" stroke-width="0.8"/>
<line x1="532.10" y1="486.65" x2="537.40" y2="486.65" stroke="#000" stroke-width="0.8"/>
<text x="528.30" y="606.44" font-size="8.0" text-anchor="end" fill="#111">0</text>
<text x="528.30" y="589.79" font-size="8.0" text-anchor="end" fill="#111">20</text>
<text x="528.30" y="573.14" font-size="8.0" text-anchor="end" fill="#111">40</text>
<text x="528.30" y="556.49" font-size="8.0" text-anchor="end" fill="#111">60</text>
<text x="528.30" y="539.84" font-size="8.0" text-anchor="end" fill="#111">80</text>
<text x="528.30" y="523.19" font-size="8.0" text-anchor="end" fill="#111">100</text>
<text x="528.30" y="506.54" font-size="8.0" text-anchor="end" fill="#111">120</text>
<text x="528.30" y="489.89" font-size="8.0" text-anchor="end" fill="#111">140</text>
<line x1="537.40" y1="603.20" x2="631.40" y2="603.20" stroke="#000" stroke-width="0.7"/>
<rect x="546.80" y="520.20" width="10.10" height="83.00" fill="#000"/>
<rect x="557.30" y="498.70" width="8.90" height="104.50" fill="#9cbde4" stroke="#242424" stroke-width="0.8"/>
<line x1="551.80" y1="520.20" x2="551.80" y2="517.30" stroke="#222" stroke-width="0.7"/>
<line x1="549.20" y1="517.30" x2="554.40" y2="517.30" stroke="#222" stroke-width="0.7"/>
<line x1="561.90" y1="498.30" x2="561.90" y2="493.00" stroke="#222" stroke-width="0.7"/>
<line x1="559.30" y1="493.00" x2="564.50" y2="493.00" stroke="#222" stroke-width="0.7"/>
<path d="M551.80 487.20V484.30H561.90V487.20" fill="none" stroke="#2a2a2a" stroke-width="0.75"/>
<text x="556.85" y="484.22" font-size="10.0" text-anchor="middle" fill="#000" stroke="#000" stroke-width="0.15">**</text>
<text x="556.80" y="614.09" font-size="8.3" text-anchor="middle" fill="#111" font-style="italic">Il10</text>
<rect x="575.60" y="520.20" width="10.10" height="83.00" fill="#000"/>
<rect x="586.10" y="526.80" width="8.90" height="76.40" fill="#9cbde4" stroke="#242424" stroke-width="0.8"/>
<line x1="580.60" y1="520.20" x2="580.60" y2="517.30" stroke="#222" stroke-width="0.7"/>
<line x1="578.00" y1="517.30" x2="583.20" y2="517.30" stroke="#222" stroke-width="0.7"/>
<line x1="590.70" y1="526.40" x2="590.70" y2="520.40" stroke="#222" stroke-width="0.7"/>
<line x1="588.10" y1="520.40" x2="593.30" y2="520.40" stroke="#222" stroke-width="0.7"/>
<path d="M580.60 510.90V508.00H590.70V510.90" fill="none" stroke="#2a2a2a" stroke-width="0.75"/>
<text x="585.65" y="505.80" font-size="8.3" text-anchor="middle" fill="#111">ns</text>
<text x="585.60" y="614.09" font-size="8.3" text-anchor="middle" fill="#111" font-style="italic">Mrc1</text>
<rect x="604.30" y="520.20" width="10.10" height="83.00" fill="#000"/>
<rect x="614.80" y="516.90" width="8.90" height="86.30" fill="#9cbde4" stroke="#242424" stroke-width="0.8"/>
<line x1="609.30" y1="520.20" x2="609.30" y2="517.30" stroke="#222" stroke-width="0.7"/>
<line x1="606.70" y1="517.30" x2="611.90" y2="517.30" stroke="#222" stroke-width="0.7"/>
<line x1="619.40" y1="516.50" x2="619.40" y2="500.40" stroke="#222" stroke-width="0.7"/>
<line x1="616.80" y1="500.40" x2="622.00" y2="500.40" stroke="#222" stroke-width="0.7"/>
<path d="M609.30 493.60V490.70H619.40V493.60" fill="none" stroke="#2a2a2a" stroke-width="0.75"/>
<text x="614.35" y="488.50" font-size="8.3" text-anchor="middle" fill="#111">ns</text>
<text x="614.30" y="614.09" font-size="8.3" text-anchor="middle" fill="#111" font-style="italic">Cx3cr1</text>
<line x1="545.80" y1="618.30" x2="624.00" y2="618.30" stroke="#000" stroke-width="0.7"/>
<text x="584.00" y="629.09" font-size="8.3" text-anchor="middle" fill="#111">Anti-inflammatory</text>
<rect x="626.70" y="478.35" width="7.50" height="6.70" fill="#000"/>
<text x="638.40" y="484.67" font-size="8.25" text-anchor="start" fill="#111"><tspan font-style="italic">Zeb1</tspan> (+/+)</text>
<rect x="627.10" y="488.15" width="6.70" height="5.90" fill="#9cbde4" stroke="#242424" stroke-width="0.8"/>
<text x="638.40" y="494.07" font-size="8.25" text-anchor="start" fill="#111"><tspan font-style="italic">Zeb1</tspan> (+/–)</text>
</svg>
</div>
</body>
</html>
